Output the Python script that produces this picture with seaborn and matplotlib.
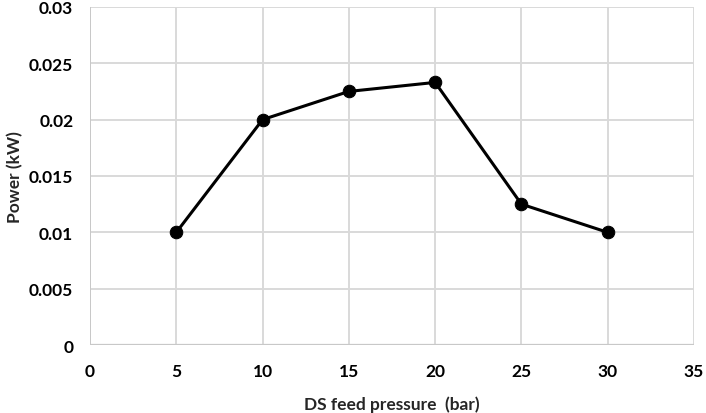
import matplotlib
matplotlib.use("Agg")
import matplotlib.pyplot as plt
import seaborn as sns
import pandas as pd

# DS feed pressure (bar) vs power (kW)
pressure = [5, 10, 15, 20, 25, 30]
power = [0.01, 0.02, 0.0225, 0.0233, 0.0125, 0.01]

sns.set_theme(style="whitegrid")
plt.rcParams['font.family'] = ['Lato', 'DejaVu Sans']
plt.rcParams['font.weight'] = 'bold'

df = pd.DataFrame({"pressure": pressure, "power": power})

fig = plt.figure(figsize=(7.06, 4.14), dpi=100)
ax = fig.add_axes([0.1275, 0.164, 0.8555, 0.817])
sns.lineplot(data=df, x="pressure", y="power", ax=ax, color="black",
             linewidth=2.2, marker="o", markersize=9, markeredgecolor="black")

ax.set_xlim(0, 35)
ax.set_ylim(0, 0.03)
ax.set_xticks(range(0, 36, 5))
ax.set_yticks([0, 0.005, 0.01, 0.015, 0.02, 0.025, 0.03])
ax.set_yticklabels(["0", "0.005", "0.01", "0.015", "0.02", "0.025", "0.03"])
ax.grid(True, color="#d9d9d9", linewidth=1.4)
for s in ax.spines.values():
    s.set_visible(False)
ax.axhline(0, color="#c8c8c8", linewidth=1.6, zorder=1)
ax.axvline(0, color="#c8c8c8", linewidth=1.4, zorder=1)
ax.tick_params(axis="both", labelsize=12.5, colors="black", length=0)
ax.tick_params(axis="x", pad=13)
ax.tick_params(axis="y", pad=12)
for lab in ax.get_xticklabels() + ax.get_yticklabels():
    lab.set_fontweight("bold")

ax.set_xlabel("DS feed pressure  (bar)", fontsize=12.5, fontweight="bold", labelpad=12)
ax.set_ylabel("")
fig.text(0.021, 0.164 + 0.817 / 2, "Power (kW)", rotation=90, ha="center", va="center",
         fontsize=12.5, fontweight="bold")

fig.savefig("out.png", dpi=100)
